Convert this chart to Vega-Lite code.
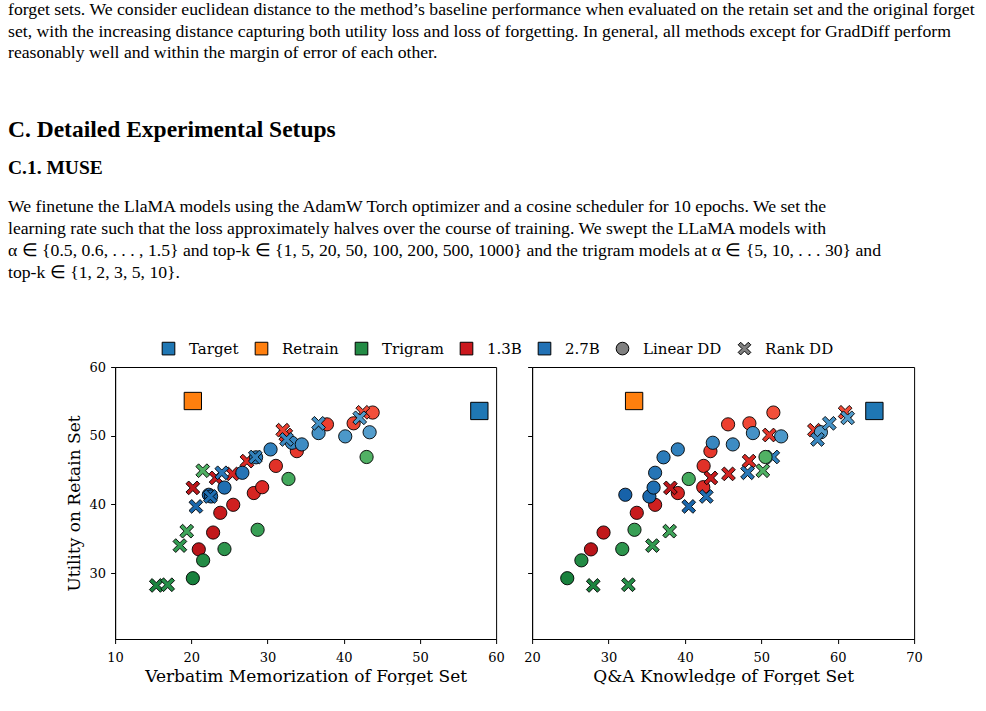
{
  "$schema": "https://vega.github.io/schema/vega-lite/v6.json",
  "background": "white",
  "padding": {"left": 8, "top": 0, "right": 0, "bottom": 0},
  "spacing": 77,
  "center": true,
  "datasets": {
    "page": [
      {"kind": "body", "line": 0, "text": "forget sets. We consider euclidean distance to the method’s baseline performance when evaluated on the retain set and the original forget"},
      {"kind": "body", "line": 1, "text": "set, with the increasing distance capturing both utility loss and loss of forgetting. In general, all methods except for GradDiff perform"},
      {"kind": "body", "line": 2, "text": "reasonably well and within the margin of error of each other."},
      {"kind": "section", "line": 5.5, "text": "C. Detailed Experimental Setups"},
      {"kind": "subsection", "line": 7.25, "text": "C.1. MUSE"},
      {"kind": "body", "line": 9.05, "text": "We finetune the LlaMA models using the AdamW Torch optimizer and a cosine scheduler for 10 epochs. We set the"},
      {"kind": "body", "line": 10.07, "text": "learning rate such that the loss approximately halves over the course of training.  We swept the LLaMA models with"},
      {"kind": "body", "line": 11.08, "text": "α ∈ {0.5, 0.6, . . . , 1.5} and top-k ∈ {1, 5, 20, 50, 100, 200, 500, 1000} and the trigram models at α ∈ {5, 10, . . . 30} and"},
      {"kind": "body", "line": 12.1, "text": "top-k ∈ {1, 2, 3, 5, 10}."}
    ],
    "keys": [
      {"entry": "Target"}, {"entry": "Retrain"}, {"entry": "Trigram"}, {"entry": "1.3B"},
      {"entry": "2.7B"}, {"entry": "Linear DD"}, {"entry": "Rank DD"}
    ],
    "refs": [
      {"model": "Target", "verbatim": 57.8, "knowledge": 64.8, "utility": 53.6},
      {"model": "Retrain", "verbatim": 20.2, "knowledge": 33.35, "utility": 55.05}
    ],
    "runs": [
      {"model": "1.3B", "method": "Linear DD", "param": 0.5, "verbatim": 20.98, "knowledge": 27.7, "utility": 33.45},
      {"model": "1.3B", "method": "Linear DD", "param": 0.6, "verbatim": 22.86, "knowledge": 29.35, "utility": 35.9},
      {"model": "1.3B", "method": "Linear DD", "param": 0.7, "verbatim": 23.8, "knowledge": 33.7, "utility": 38.77},
      {"model": "1.3B", "method": "Linear DD", "param": 0.8, "verbatim": 25.5, "knowledge": 36.1, "utility": 39.94},
      {"model": "1.3B", "method": "Linear DD", "param": 0.9, "verbatim": 28.2, "knowledge": 39.07, "utility": 41.65},
      {"model": "1.3B", "method": "Linear DD", "param": 1.0, "verbatim": 29.3, "knowledge": 42.4, "utility": 42.5},
      {"model": "1.3B", "method": "Linear DD", "param": 1.1, "verbatim": 31.1, "knowledge": 42.45, "utility": 45.6},
      {"model": "1.3B", "method": "Linear DD", "param": 1.2, "verbatim": 33.85, "knowledge": 43.34, "utility": 47.75},
      {"model": "1.3B", "method": "Linear DD", "param": 1.3, "verbatim": 37.8, "knowledge": 45.65, "utility": 51.65},
      {"model": "1.3B", "method": "Linear DD", "param": 1.4, "verbatim": 41.3, "knowledge": 48.44, "utility": 51.8},
      {"model": "1.3B", "method": "Linear DD", "param": 1.5, "verbatim": 43.8, "knowledge": 51.58, "utility": 53.37},
      {"model": "1.3B", "method": "Rank DD", "param": 1, "verbatim": 20.2, "knowledge": 38.1, "utility": 42.4},
      {"model": "1.3B", "method": "Rank DD", "param": 5, "verbatim": 23.25, "knowledge": 43.4, "utility": 43.85},
      {"model": "1.3B", "method": "Rank DD", "param": 20, "verbatim": 25.4, "knowledge": 45.7, "utility": 44.44},
      {"model": "1.3B", "method": "Rank DD", "param": 50, "verbatim": 27.3, "knowledge": 48.4, "utility": 46.3},
      {"model": "1.3B", "method": "Rank DD", "param": 100, "verbatim": 32.4, "knowledge": 51.05, "utility": 50.1},
      {"model": "1.3B", "method": "Rank DD", "param": 200, "verbatim": 32.0, "knowledge": 56.95, "utility": 50.8},
      {"model": "1.3B", "method": "Rank DD", "param": 500, "verbatim": 42.5, "knowledge": 60.97, "utility": 53.4},
      {"model": "2.7B", "method": "Linear DD", "param": 0.5, "verbatim": 22.3, "knowledge": 32.2, "utility": 41.4},
      {"model": "2.7B", "method": "Linear DD", "param": 0.6, "verbatim": 22.6, "knowledge": 35.35, "utility": 41.15},
      {"model": "2.7B", "method": "Linear DD", "param": 0.7, "verbatim": 24.35, "knowledge": 35.9, "utility": 42.45},
      {"model": "2.7B", "method": "Linear DD", "param": 0.8, "verbatim": 26.7, "knowledge": 36.1, "utility": 44.6},
      {"model": "2.7B", "method": "Linear DD", "param": 0.9, "verbatim": 28.5, "knowledge": 37.2, "utility": 46.85},
      {"model": "2.7B", "method": "Linear DD", "param": 1.0, "verbatim": 30.4, "knowledge": 39.07, "utility": 48.0},
      {"model": "2.7B", "method": "Linear DD", "param": 1.1, "verbatim": 33.2, "knowledge": 43.65, "utility": 48.97},
      {"model": "2.7B", "method": "Linear DD", "param": 1.2, "verbatim": 34.5, "knowledge": 46.27, "utility": 48.73},
      {"model": "2.7B", "method": "Linear DD", "param": 1.3, "verbatim": 36.7, "knowledge": 48.9, "utility": 50.38},
      {"model": "2.7B", "method": "Linear DD", "param": 1.4, "verbatim": 40.2, "knowledge": 52.6, "utility": 49.9},
      {"model": "2.7B", "method": "Linear DD", "param": 1.5, "verbatim": 43.4, "knowledge": 57.8, "utility": 50.5},
      {"model": "2.7B", "method": "Rank DD", "param": 1, "verbatim": 20.6, "knowledge": 40.5, "utility": 39.7},
      {"model": "2.7B", "method": "Rank DD", "param": 5, "verbatim": 22.5, "knowledge": 42.8, "utility": 41.15},
      {"model": "2.7B", "method": "Rank DD", "param": 20, "verbatim": 24.0, "knowledge": 48.2, "utility": 44.6},
      {"model": "2.7B", "method": "Rank DD", "param": 50, "verbatim": 28.4, "knowledge": 51.5, "utility": 46.9},
      {"model": "2.7B", "method": "Rank DD", "param": 100, "verbatim": 32.5, "knowledge": 57.35, "utility": 49.45},
      {"model": "2.7B", "method": "Rank DD", "param": 200, "verbatim": 36.7, "knowledge": 58.9, "utility": 51.8},
      {"model": "2.7B", "method": "Rank DD", "param": 500, "verbatim": 42.1, "knowledge": 61.3, "utility": 52.6},
      {"model": "Trigram", "method": "Linear DD", "param": 5, "verbatim": 20.2, "knowledge": 24.6, "utility": 29.25},
      {"model": "Trigram", "method": "Linear DD", "param": 10, "verbatim": 21.55, "knowledge": 26.45, "utility": 31.85},
      {"model": "Trigram", "method": "Linear DD", "param": 15, "verbatim": 24.35, "knowledge": 31.8, "utility": 33.5},
      {"model": "Trigram", "method": "Linear DD", "param": 20, "verbatim": 28.7, "knowledge": 33.4, "utility": 36.3},
      {"model": "Trigram", "method": "Linear DD", "param": 25, "verbatim": 32.75, "knowledge": 40.5, "utility": 43.7},
      {"model": "Trigram", "method": "Linear DD", "param": 30, "verbatim": 43.0, "knowledge": 50.55, "utility": 46.9},
      {"model": "Trigram", "method": "Rank DD", "param": 1, "verbatim": 15.4, "knowledge": 28.0, "utility": 28.2},
      {"model": "Trigram", "method": "Rank DD", "param": 2, "verbatim": 16.9, "knowledge": 32.6, "utility": 28.3},
      {"model": "Trigram", "method": "Rank DD", "param": 3, "verbatim": 18.5, "knowledge": 35.75, "utility": 34.0},
      {"model": "Trigram", "method": "Rank DD", "param": 5, "verbatim": 19.4, "knowledge": 38.0, "utility": 36.1},
      {"model": "Trigram", "method": "Rank DD", "param": 10, "verbatim": 21.5, "knowledge": 50.2, "utility": 44.9}
    ]
  },
  "vconcat": [
    {
      "width": 1022,
      "height": 283,
      "view": {"stroke": null},
      "data": {"name": "page"},
      "encoding": {
        "x": {"value": 0},
        "y": {"field": "line", "type": "quantitative", "scale": {"domain": [-0.45, 12.55], "reverse": true, "nice": false, "zero": false}, "axis": null},
        "text": {"field": "text", "type": "nominal"}
      },
      "layer": [
        {"transform": [{"filter": "datum.kind === 'body'"}], "mark": {"type": "text", "align": "left", "baseline": "middle", "font": "Liberation Serif", "fontSize": 17.7, "color": "black"}},
        {"transform": [{"filter": "datum.kind === 'section'"}], "mark": {"type": "text", "align": "left", "baseline": "middle", "font": "Liberation Serif", "fontSize": 23.5, "fontWeight": "bold", "color": "black"}},
        {"transform": [{"filter": "datum.kind === 'subsection'"}], "mark": {"type": "text", "align": "left", "baseline": "middle", "font": "Liberation Serif", "fontSize": 19.5, "fontWeight": "bold", "color": "black"}}
      ]
    },
    {
      "spacing": 18,
      "resolve": {"scale": {"fill": "independent", "color": "shared", "shape": "shared"}},
      "hconcat": [
        {
          "width": 381,
          "height": 272,
          "encoding": {
            "x": {"field": "verbatim", "type": "quantitative", "title": "Verbatim Memorization of Forget Set",
                  "scale": {"domain": [10, 60], "nice": false, "zero": false},
                  "axis": {"values": [10, 20, 30, 40, 50, 60], "labelPadding": 8, "titlePadding": 4}},
            "y": {"field": "utility", "type": "quantitative", "title": "Utility on Retain Set",
                  "scale": {"domain": [20.4, 60], "nice": false, "zero": false},
                  "axis": {"values": [30, 40, 50, 60], "titlePadding": 6}}
          },
          "resolve": {"scale": {"fill": "independent"}},
          "layer": [
            {
              "data": {"name": "keys"},
              "mark": {"type": "point", "filled": true, "opacity": 1, "stroke": "black", "strokeWidth": 1, "size": 160},
              "encoding": {
                "color": {"field": "entry", "type": "nominal",
                  "scale": {"domain": ["Target", "Retrain", "Trigram", "1.3B", "2.7B", "Linear DD", "Rank DD"],
                            "range": ["#1f77b4", "#ff7f0e", "#238b45", "#cb181d", "#2171b5", "#808080", "#808080"]},
                  "legend": {"title": null, "orient": "none", "direction": "horizontal", "legendX": 153, "legendY": 341, "symbolSize": 160, "symbolStrokeColor": "black", "symbolStrokeWidth": 1, "labelOffset": 13, "columnPadding": 14}},
                "shape": {"field": "entry", "type": "nominal",
                  "scale": {"domain": ["Target", "Retrain", "Trigram", "1.3B", "2.7B", "Linear DD", "Rank DD"],
                            "range": ["square", "square", "square", "square", "square", "circle", "M-1,-0.6L-0.6,-1L0,-0.4L0.6,-1L1,-0.6L0.4,0L1,0.6L0.6,1L0,0.4L-0.6,1L-1,0.6L-0.4,0Z"]},
                  "legend": {"title": null, "orient": "none", "direction": "horizontal", "legendX": 153, "legendY": 341, "symbolSize": 160, "symbolStrokeColor": "black", "symbolStrokeWidth": 1, "labelOffset": 13, "columnPadding": 14}}
              }
            },
            {
              "data": {"name": "runs"},
              "transform": [{"filter": "datum.model === '1.3B' && datum.method === 'Linear DD'"}],
              "mark": {"type": "point", "filled": true, "opacity": 1, "stroke": "black", "strokeWidth": 0.9, "size": 175},
              "encoding": {
                "fill": {"field": "param", "type": "ordinal", "scale": {"scheme": {"name": "reds", "extent": [0.5, 0.9]}, "reverse": true}, "legend": null},
                "shape": {"field": "method", "type": "nominal", "legend": null}
              }
            },
            {
              "data": {"name": "runs"},
              "transform": [{"filter": "datum.model === '1.3B' && datum.method === 'Rank DD'"}],
              "mark": {"type": "point", "filled": true, "opacity": 1, "stroke": "black", "strokeWidth": 0.9, "size": 190},
              "encoding": {
                "fill": {"field": "param", "type": "ordinal", "scale": {"scheme": {"name": "reds", "extent": [0.5, 0.9]}, "reverse": true}, "legend": null},
                "shape": {"field": "method", "type": "nominal", "legend": null}
              }
            },
            {
              "data": {"name": "runs"},
              "transform": [{"filter": "datum.model === '2.7B' && datum.method === 'Linear DD'"}],
              "mark": {"type": "point", "filled": true, "opacity": 1, "stroke": "black", "strokeWidth": 0.9, "size": 175},
              "encoding": {
                "fill": {"field": "param", "type": "ordinal", "scale": {"scheme": {"name": "blues", "extent": [0.5, 0.9]}, "reverse": true}, "legend": null},
                "shape": {"field": "method", "type": "nominal", "legend": null}
              }
            },
            {
              "data": {"name": "runs"},
              "transform": [{"filter": "datum.model === '2.7B' && datum.method === 'Rank DD'"}],
              "mark": {"type": "point", "filled": true, "opacity": 1, "stroke": "black", "strokeWidth": 0.9, "size": 190},
              "encoding": {
                "fill": {"field": "param", "type": "ordinal", "scale": {"scheme": {"name": "blues", "extent": [0.5, 0.9]}, "reverse": true}, "legend": null},
                "shape": {"field": "method", "type": "nominal", "legend": null}
              }
            },
            {
              "data": {"name": "runs"},
              "transform": [{"filter": "datum.model === 'Trigram' && datum.method === 'Linear DD'"}],
              "mark": {"type": "point", "filled": true, "opacity": 1, "stroke": "black", "strokeWidth": 0.9, "size": 175},
              "encoding": {
                "fill": {"field": "param", "type": "ordinal", "scale": {"scheme": {"name": "greens", "extent": [0.5, 0.9]}, "reverse": true}, "legend": null},
                "shape": {"field": "method", "type": "nominal", "legend": null}
              }
            },
            {
              "data": {"name": "runs"},
              "transform": [{"filter": "datum.model === 'Trigram' && datum.method === 'Rank DD'"}],
              "mark": {"type": "point", "filled": true, "opacity": 1, "stroke": "black", "strokeWidth": 0.9, "size": 190},
              "encoding": {
                "fill": {"field": "param", "type": "ordinal", "scale": {"scheme": {"name": "greens", "extent": [0.5, 0.9]}, "reverse": true}, "legend": null},
                "shape": {"field": "method", "type": "nominal", "legend": null}
              }
            },
            {
              "data": {"name": "refs"},
              "mark": {"type": "point", "filled": true, "opacity": 1, "stroke": "black", "strokeWidth": 1, "size": 300},
              "encoding": {
                "color": {"field": "model", "type": "nominal", "legend": null},
                "shape": {"field": "model", "type": "nominal", "legend": null}
              }
            }
          ]
        },
        {
          "width": 382,
          "height": 272,
          "encoding": {
            "x": {"field": "knowledge", "type": "quantitative", "title": "Q&A Knowledge of Forget Set",
                  "scale": {"domain": [20, 70], "nice": false, "zero": false},
                  "axis": {"values": [20, 30, 40, 50, 60, 70], "labelPadding": 8, "titlePadding": 4}},
            "y": {"field": "utility", "type": "quantitative", "title": null,
                  "scale": {"domain": [20.4, 60], "nice": false, "zero": false},
                  "axis": {"values": [30, 40, 50, 60], "labels": false}}
          },
          "resolve": {"scale": {"fill": "independent"}},
          "layer": [
            {
              "data": {"name": "runs"},
              "transform": [{"filter": "datum.model === '1.3B' && datum.method === 'Linear DD'"}],
              "mark": {"type": "point", "filled": true, "opacity": 1, "stroke": "black", "strokeWidth": 0.9, "size": 175},
              "encoding": {
                "fill": {"field": "param", "type": "ordinal", "scale": {"scheme": {"name": "reds", "extent": [0.5, 0.9]}, "reverse": true}, "legend": null},
                "shape": {"field": "method", "type": "nominal", "legend": null}
              }
            },
            {
              "data": {"name": "runs"},
              "transform": [{"filter": "datum.model === '1.3B' && datum.method === 'Rank DD'"}],
              "mark": {"type": "point", "filled": true, "opacity": 1, "stroke": "black", "strokeWidth": 0.9, "size": 190},
              "encoding": {
                "fill": {"field": "param", "type": "ordinal", "scale": {"scheme": {"name": "reds", "extent": [0.5, 0.9]}, "reverse": true}, "legend": null},
                "shape": {"field": "method", "type": "nominal", "legend": null}
              }
            },
            {
              "data": {"name": "runs"},
              "transform": [{"filter": "datum.model === '2.7B' && datum.method === 'Linear DD'"}],
              "mark": {"type": "point", "filled": true, "opacity": 1, "stroke": "black", "strokeWidth": 0.9, "size": 175},
              "encoding": {
                "fill": {"field": "param", "type": "ordinal", "scale": {"scheme": {"name": "blues", "extent": [0.5, 0.9]}, "reverse": true}, "legend": null},
                "shape": {"field": "method", "type": "nominal", "legend": null}
              }
            },
            {
              "data": {"name": "runs"},
              "transform": [{"filter": "datum.model === '2.7B' && datum.method === 'Rank DD'"}],
              "mark": {"type": "point", "filled": true, "opacity": 1, "stroke": "black", "strokeWidth": 0.9, "size": 190},
              "encoding": {
                "fill": {"field": "param", "type": "ordinal", "scale": {"scheme": {"name": "blues", "extent": [0.5, 0.9]}, "reverse": true}, "legend": null},
                "shape": {"field": "method", "type": "nominal", "legend": null}
              }
            },
            {
              "data": {"name": "runs"},
              "transform": [{"filter": "datum.model === 'Trigram' && datum.method === 'Linear DD'"}],
              "mark": {"type": "point", "filled": true, "opacity": 1, "stroke": "black", "strokeWidth": 0.9, "size": 175},
              "encoding": {
                "fill": {"field": "param", "type": "ordinal", "scale": {"scheme": {"name": "greens", "extent": [0.5, 0.9]}, "reverse": true}, "legend": null},
                "shape": {"field": "method", "type": "nominal", "legend": null}
              }
            },
            {
              "data": {"name": "runs"},
              "transform": [{"filter": "datum.model === 'Trigram' && datum.method === 'Rank DD'"}],
              "mark": {"type": "point", "filled": true, "opacity": 1, "stroke": "black", "strokeWidth": 0.9, "size": 190},
              "encoding": {
                "fill": {"field": "param", "type": "ordinal", "scale": {"scheme": {"name": "greens", "extent": [0.5, 0.9]}, "reverse": true}, "legend": null},
                "shape": {"field": "method", "type": "nominal", "legend": null}
              }
            },
            {
              "data": {"name": "refs"},
              "mark": {"type": "point", "filled": true, "opacity": 1, "stroke": "black", "strokeWidth": 1, "size": 300},
              "encoding": {
                "color": {"field": "model", "type": "nominal", "legend": null},
                "shape": {"field": "model", "type": "nominal", "legend": null}
              }
            }
          ]
        }
      ]
    }
  ],
  "resolve": {"scale": {"fill": "independent", "color": "shared", "shape": "shared"}},
  "config": {
    "view": {"stroke": "black", "strokeWidth": 1},
    "font": "DejaVu Serif",
    "axis": {
      "grid": false,
      "labelFlush": false,
      "domainColor": "black", "domainWidth": 1,
      "tickColor": "black", "tickWidth": 1, "tickSize": 4.5,
      "labelColor": "black", "labelFont": "DejaVu Serif", "labelFontSize": 13, "labelPadding": 5,
      "titleColor": "black", "titleFont": "DejaVu Serif", "titleFontSize": 17, "titleFontWeight": "normal"
    },
    "legend": {"labelFont": "DejaVu Serif", "labelFontSize": 15, "labelColor": "black"}
  }
}
